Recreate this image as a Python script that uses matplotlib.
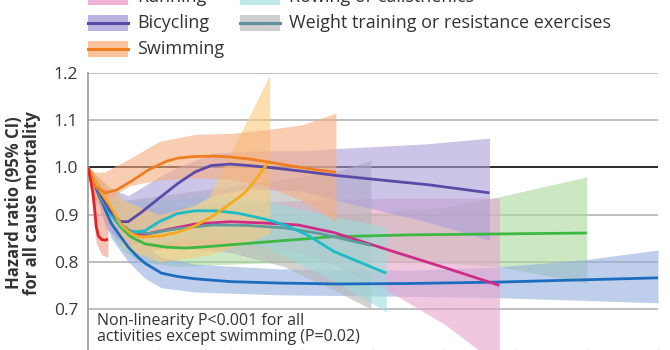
import matplotlib
matplotlib.use("Agg")
import matplotlib.pyplot as plt
from matplotlib.patches import Rectangle
from matplotlib.lines import Line2D

plt.rcParams["font.family"] = ["Open Sans", "DejaVu Sans"]

# ---- data (x in MET-hours/week-like units, 0..160) ----
walk_x = [0, 2, 4, 6.5, 9, 11.3, 14, 16, 20.6, 25, 30, 40, 53.5, 70, 90, 115, 140, 160]
walk_y = [1.0, 0.96, 0.925, 0.882, 0.855, 0.831, 0.81, 0.797, 0.776, 0.769, 0.764, 0.758,
          0.755, 0.753, 0.754, 0.757, 0.762, 0.766]
walk_bx = [0, 6.5, 11.3, 16, 20.6, 30, 53.5, 90, 115, 140, 160]
walk_lo = [1.0, 0.85, 0.80, 0.765, 0.745, 0.736, 0.73, 0.727, 0.724, 0.718, 0.713]
walk_hi = [1.0, 0.91, 0.87, 0.835, 0.81, 0.795, 0.785, 0.782, 0.789, 0.805, 0.825]

swim_x = [0, 2, 4.8, 8, 12, 17, 22, 25.4, 30, 35, 40, 45, 51, 58, 64, 69.6]
swim_y = [1.0, 0.96, 0.946, 0.952, 0.97, 0.995, 1.013, 1.02, 1.023, 1.024, 1.022, 1.018,
          1.011, 1.002, 0.995, 0.99]
swim_bx = [0, 2, 4.8, 7, 12, 20, 30, 40, 50, 60, 69.6]
swim_lo = [1.0, 0.93, 0.905, 0.94, 0.962, 0.973, 0.978, 0.975, 0.96, 0.93, 0.885]
swim_hi = [1.0, 0.99, 0.99, 1.0, 1.02, 1.055, 1.07, 1.072, 1.08, 1.09, 1.115]

gold_x = [0, 3, 6.5, 9.3, 12, 14.9, 20.6, 25.4, 30, 34.6, 39, 44, 47.5, 51]
gold_y = [1.0, 0.955, 0.915, 0.878, 0.86, 0.852, 0.855, 0.863, 0.876, 0.895, 0.918, 0.946,
          0.978, 1.015]
gold_bx = [0, 10, 20, 30, 33.8, 42, 46, 51]
gold_lo = [1.0, 0.83, 0.80, 0.81, 0.815, 0.835, 0.845, 0.86]
gold_hi = [1.0, 0.93, 0.90, 0.92, 0.937, 1.06, 1.12, 1.196]

bike_x = [0, 3, 6, 9, 11.3, 15, 20, 25.4, 30, 34.6, 40, 45, 50.7, 60, 69.6, 80, 95.8, 112.7]
bike_y = [1.0, 0.95, 0.91, 0.885, 0.885, 0.905, 0.935, 0.967, 0.99, 1.004, 1.007, 1.004,
          1.0, 0.992, 0.983, 0.975, 0.963, 0.946]
bike_bx = [0, 5, 11.3, 20, 25, 35, 45, 60, 70, 95, 112.7]
bike_lo = [1.0, 0.87, 0.83, 0.87, 0.9, 0.94, 0.955, 0.95, 0.93, 0.885, 0.846]
bike_hi = [1.0, 0.96, 0.94, 0.98, 1.0, 1.03, 1.035, 1.035, 1.04, 1.05, 1.062]

green_x = [0, 3, 6, 9, 12, 16, 22, 27.3, 35, 49.9, 68.5, 90, 115, 140]
green_y = [1.0, 0.955, 0.91, 0.875, 0.853, 0.838, 0.831, 0.829, 0.833, 0.842, 0.853, 0.857,
           0.859, 0.861]
green_bx = [0, 8, 14, 25, 40, 60, 80, 100, 115, 140]
green_lo = [1.0, 0.84, 0.80, 0.79, 0.795, 0.80, 0.80, 0.797, 0.79, 0.755]
green_hi = [1.0, 0.93, 0.885, 0.875, 0.885, 0.895, 0.905, 0.915, 0.937, 0.98]

red_x = [0, 0.8, 1.4, 1.9, 2.3, 2.9, 3.8, 4.8, 5.6]
red_y = [1.0, 0.97, 0.945, 0.91, 0.875, 0.855, 0.847, 0.846, 0.848]
red_bx = [0, 1.4, 2.3, 3.8, 5.6]
red_lo = [1.0, 0.90, 0.84, 0.815, 0.81]
red_hi = [1.0, 0.99, 0.975, 0.96, 0.95]

run_x = [0, 4, 8, 12, 16, 22, 30, 40, 50, 59, 69, 87.3, 100, 115.5]
run_y = [1.0, 0.93, 0.885, 0.862, 0.858, 0.868, 0.88, 0.885, 0.882, 0.878, 0.862, 0.818,
         0.788, 0.75]
run_bx = [0, 10, 20, 40, 60, 70, 87.3, 100, 115.5]
run_lo = [1.0, 0.83, 0.83, 0.84, 0.82, 0.79, 0.725, 0.668, 0.58]
run_hi = [1.0, 0.92, 0.915, 0.925, 0.93, 0.932, 0.935, 0.935, 0.935]

row_x = [0, 3, 6, 9, 12, 16, 20, 25, 30, 36, 42, 50, 56, 62, 69, 76, 83.7]
row_y = [1.0, 0.95, 0.905, 0.875, 0.862, 0.866, 0.885, 0.902, 0.908, 0.908, 0.903, 0.89,
         0.876, 0.855, 0.822, 0.80, 0.776]
row_bx = [0, 10, 20, 35, 50, 69, 83.7]
row_lo = [1.0, 0.82, 0.84, 0.85, 0.83, 0.76, 0.694]
row_hi = [1.0, 0.93, 0.93, 0.94, 0.93, 0.895, 0.874]

wt_x = [0, 4, 8, 12, 17, 25, 35, 45, 55, 65, 79.4]
wt_y = [1.0, 0.93, 0.885, 0.865, 0.86, 0.87, 0.878, 0.877, 0.872, 0.86, 0.835]
wt_bx = [0, 10, 25, 40, 55, 69, 79.4]
wt_lo = [1.0, 0.82, 0.83, 0.82, 0.79, 0.74, 0.70]
wt_hi = [1.0, 0.93, 0.945, 0.96, 0.975, 0.99, 1.015]

y_ticks = [0.7, 0.8, 0.9, 1.0, 1.1, 1.2]
x_ticks = [0, 20, 40, 60, 80, 100, 120, 140, 160]

# (x, y, band x, lo, hi, line colour, band colour), drawn back to front
series = [
    (green_x, green_y, green_bx, green_lo, green_hi, "#3db843", "#a9d99c"),
    (walk_x, walk_y, walk_bx, walk_lo, walk_hi, "#1c6cc0", "#93aede"),
    (run_x, run_y, run_bx, run_lo, run_hi, "#cf2c89", "#e9a3cc"),
    (wt_x, wt_y, wt_bx, wt_lo, wt_hi, "#5f9a9c", "#b5b5b5"),
    (row_x, row_y, row_bx, row_lo, row_hi, "#1cbcc6", "#9edcdc"),
    (bike_x, bike_y, bike_bx, bike_lo, bike_hi, "#5c4aa8", "#aa9fd8"),
    (gold_x, gold_y, gold_bx, gold_lo, gold_hi, "#f6a91c", "#fbca7a"),
    (swim_x, swim_y, swim_bx, swim_lo, swim_hi, "#ef7d22", "#f6ad80"),
    (red_x, red_y, red_bx, red_lo, red_hi, "#e42127", "#f09a86"),
]

# legend rows visible in the crop (first row is cut by the top edge, as in the source)
legend_items = [
    ("Running", "#cf2c89", "#eeb3d6", 0, -3),
    ("Rowing or calisthenics", "#1cbcc6", "#bfe8e8", 1, -3),
    ("Bicycling", "#5c4aa8", "#bdb3e2", 0, 23),
    ("Weight training or resistance exercises", "#5f8f9a", "#cfcfcf", 1, 23),
    ("Swimming", "#ef7d22", "#f9c39c", 0, 49),
]

W, H = 670, 350
fig = plt.figure(figsize=(W / 100, H / 100), dpi=100)
# axes: x 88..658 px, y 1.2 at 73 px from top, 0.1 = 47.2 px
ax = fig.add_axes([88 / W, (H - 73 - 6 * 47.2) / H, 570 / W, 6 * 47.2 / H])
ax.set_xlim(0, 160)
ax.set_ylim(0.6, 1.2)

for y in y_ticks + [0.6]:
    ax.axhline(y, color="#1a1a1a" if y == 1.0 else "#b4b4b4",
               lw=1.3 if y == 1.0 else 1.2, zorder=1)

for x, y, bx, lo, hi, lc, bc in series:
    ax.fill_between(bx, lo, hi, color=bc, alpha=0.6, lw=0, zorder=2)
for x, y, bx, lo, hi, lc, bc in series:
    ax.plot(x, y, color=lc, lw=2.0, solid_capstyle="butt", zorder=3)

for s in ("top", "right", "bottom"):
    ax.spines[s].set_visible(False)
ax.spines["left"].set_color("#a0a0a0")
ax.spines["left"].set_linewidth(1.3)
ax.set_yticks(y_ticks)
ax.set_yticklabels([f"{v:.1f}" for v in y_ticks], fontsize=12.5, color="#3a3a3a")
ax.set_xticks(x_ticks)
ax.set_xticklabels([])
ax.tick_params(axis="y", length=0, pad=7)
ax.tick_params(axis="x", direction="in", length=5, color="#c4c4c4")

ax.text(2.5, 0.692, "Non-linearity P<0.001 for all\nactivities except swimming (P=0.02)",
        fontsize=11.5, color="#333333", va="top", ha="left", linespacing=1.05)

fig.text(23 / W, 1 - 203 / H, "Hazard ratio (95% CI)\nfor all cause mortality",
         rotation=90, ha="center", va="center", fontsize=12, fontweight="bold",
         color="#333333", multialignment="center", linespacing=1.05)

col_x = [88, 240]
for label, lc, bc, col, yc in legend_items:
    x0 = col_x[col]
    yf = 1 - yc / H
    fig.patches.append(Rectangle((x0 / W, yf - 8 / H), 40 / W, 16 / H,
                                 transform=fig.transFigure, color=bc, lw=0))
    fig.lines.append(Line2D([x0 / W, (x0 + 40) / W], [yf, yf], transform=fig.transFigure,
                            color=lc, lw=2.2))
    fig.text((x0 + 49) / W, yf, label, fontsize=13, color="#333333",
             ha="left", va="center")

fig.savefig("out.png", dpi=100)
